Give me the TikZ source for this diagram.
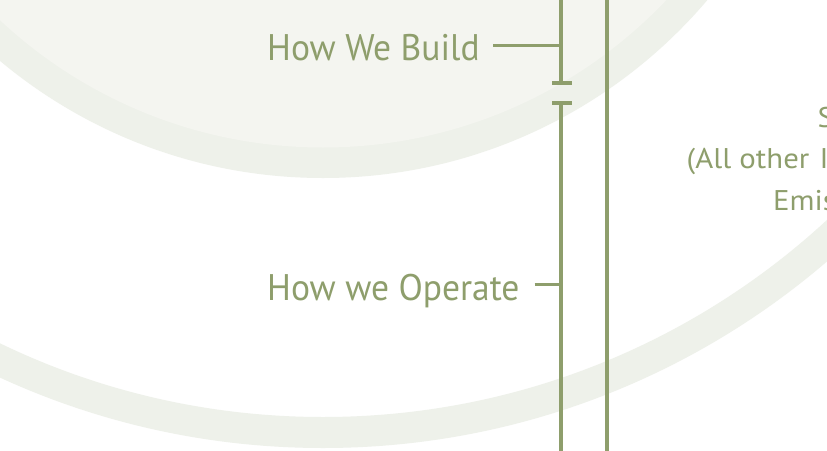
\documentclass[tikz,border=0pt]{standalone}
\usepackage{fontspec}
\setmainfont{PT Sans}
\newfontfamily\narrowfont[FakeStretch=0.96]{PT Sans}
\newfontfamily\widefont[FakeStretch=1.08]{PT Sans}
\definecolor{ringc}{HTML}{EEF1EA}
\definecolor{fillc}{HTML}{F4F5F0}
\definecolor{linec}{HTML}{8E9E6C}
\tikzset{
  biglabel/.style={inner sep=0pt, anchor=base west, text=linec, font=\narrowfont\fontsize{37}{44}\selectfont},
  smalllabel/.style={inner sep=0pt, anchor=base west, text=linec, font=\widefont\fontsize{28.5}{41}\selectfont},
  vline/.style={draw=linec, line width=4pt},
  tick/.style={draw=linec, line width=3pt},
  capbar/.style={draw=linec, line width=4pt},
}
\begin{document}
\begin{tikzpicture}[x=1pt,y=-1pt]
\useasboundingbox (0,0) rectangle (827,450);
\clip (0,0) rectangle (827,450);
\fill[white] (0,0) rectangle (827,450);
% concentric circles
\coordinate (C) at (323,-326);
\draw[ringc, line width=31pt] (C) circle[radius=758.5pt];
\fill[ringc] (C) circle[radius=504pt];
\fill[fillc] (C) circle[radius=473.5pt];
% labels
\node[biglabel] (build) at (267,60.7) {How We Build};
\node[biglabel] (operate) at (267,300.7) {How we Operate};
\node[smalllabel] (s1) at (817.5,127) {Scope 3};
\node[smalllabel] (s2) at (686.5,168.3) {(All other\hspace*{2pt} Indirect};
\node[smalllabel] (s3) at (773,210) {Emissions)};
% vertical lines
\coordinate (atop) at (561,-5);
\coordinate (abot) at (561,83);
\coordinate (btop) at (561,103);
\coordinate (bbot) at (561,455);
\coordinate (ctop) at (606.5,-5);
\coordinate (cbot) at (606.5,455);
\path[vline] (atop) -- (abot);
\path[vline] (btop) -- (bbot);
\path[vline] (ctop) -- (cbot);
% cap bars
\coordinate (abl) at (552,83);
\coordinate (abr) at (572,83);
\coordinate (bbl) at (552,103);
\coordinate (bbr) at (572,103);
\path[capbar] (abl) -- (abr);
\path[capbar] (bbl) -- (bbr);
% ticks
\coordinate (bt) at (493,45);
\coordinate (bj) at (561,45);
\coordinate (ot) at (534.5,284.5);
\coordinate (oj) at (561,284.5);
\path[tick] (bt) -- (bj);
\path[tick] (ot) -- (oj);
\end{tikzpicture}
\end{document}
